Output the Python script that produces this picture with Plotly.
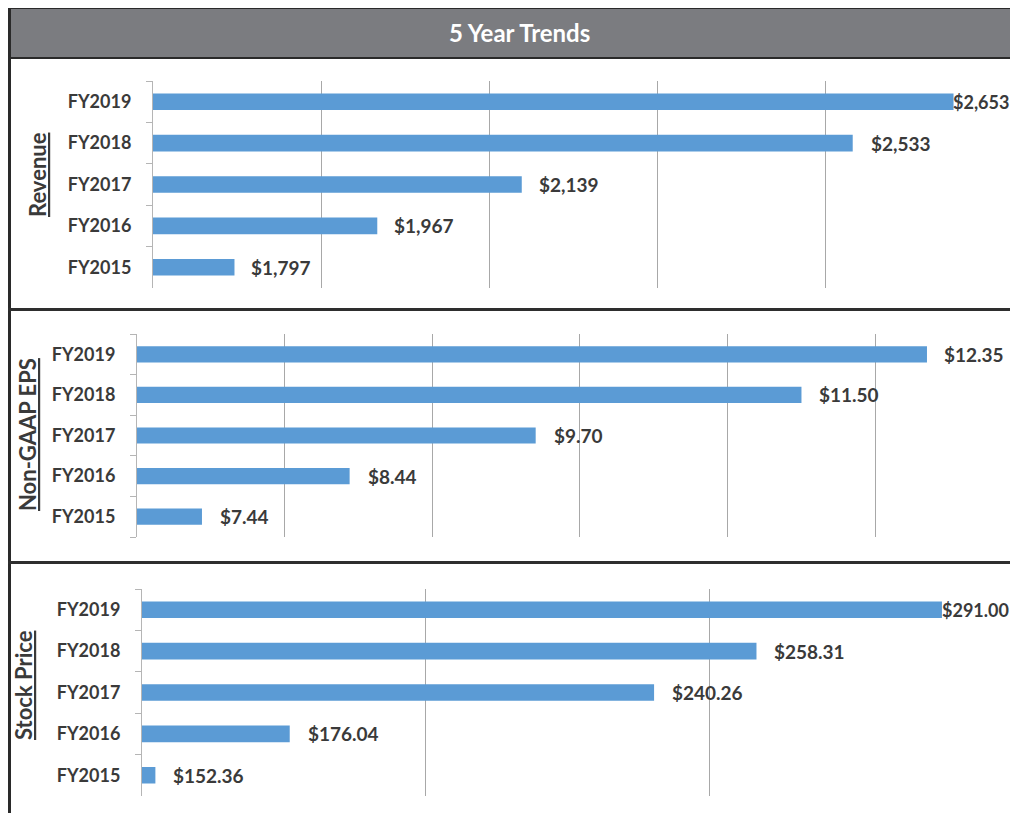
import plotly.graph_objects as go

# The page body has an 8px margin, so the figure is drawn 8px in from the
# window's top-left corner; positions below are given in window pixels.
OFF = 8
W, H = 1018 - 2 * OFF, 813 - OFF

years = ["FY2015", "FY2016", "FY2017", "FY2018", "FY2019"]
revenue = [1797, 1967, 2139, 2533, 2653]
revenue_labels = ["$1,797", "$1,967", "$2,139", "$2,533", "$2,653"]
eps = [7.44, 8.44, 9.70, 11.50, 12.35]
eps_labels = ["$7.44", "$8.44", "$9.70", "$11.50", "$12.35"]
stock = [152.36, 176.04, 240.26, 258.31, 291.00]
stock_labels = ["$152.36", "$176.04", "$240.26", "$258.31", "$291.00"]
panel_titles = ["Revenue", "Non-GAAP EPS", "Stock Price"]
chart_title = "5 Year Trends"

BAR = "#5b9bd5"
TXT = "#3a3a3a"
GRID = "#a8a8a8"
FONT = "Lato"

def py(p):
    return 1 - (p - OFF) / H

def px(p):
    return (p - OFF) / W

RIGHT = OFF + W  # right edge of the figure, window pixels

# label placement: pixel gap after the bar end, or None = pinned to the right edge
panels = [
    dict(vals=revenue, labels=revenue_labels, x0=153, x1=993, y0=81, y1=288,
         rng=[1700, 2700], dtick=200, shifts=[15, 15, 15, 16, None],
         title_x=37, title_y=175),
    dict(vals=eps, labels=eps_labels, x0=137, x1=RIGHT, y0=334, y1=537,
         rng=[7, 7 + (RIGHT - 137) / 147.66], dtick=1, shifts=[16, 16, 16, 16, 15],
         title_x=27, title_y=435),
    dict(vals=stock, labels=stock_labels, x0=142, x1=993, y0=589, y1=796,
         rng=[150, 300], dtick=50, shifts=[16, 16, 16, 16, None],
         title_x=23, title_y=685),
]

fig = go.Figure()
annotations = []
for i, p in enumerate(panels, start=1):
    xa = "x" if i == 1 else f"x{i}"
    ya = "y" if i == 1 else f"y{i}"
    fig.add_trace(go.Bar(
        x=p["vals"], y=years, orientation="h", marker=dict(color=BAR, line=dict(width=0)),
        xaxis=xa, yaxis=ya, showlegend=False, hoverinfo="skip",
    ))
    xkey = "xaxis" if i == 1 else f"xaxis{i}"
    ykey = "yaxis" if i == 1 else f"yaxis{i}"
    fig.update_layout({
        xkey: dict(domain=[px(p["x0"]), min(1, px(p["x1"]))], range=p["rng"], dtick=p["dtick"],
                   tick0=p["rng"][0], showgrid=True, gridcolor=GRID, gridwidth=1,
                   showticklabels=False, zeroline=False, showline=False, anchor=ya,
                   fixedrange=True),
        ykey: dict(domain=[py(p["y1"]), py(p["y0"])], anchor=xa, type="category",
                   categoryorder="array", categoryarray=years,
                   showline=True, linecolor="#b5b5b5", linewidth=1,
                   ticks="outside", ticklen=6, tickcolor="#b5b5b5", tickson="boundaries",
                   ticklabelstandoff=17,
                   tickfont=dict(family=FONT, size=18, color=TXT, weight="bold"),
                   showgrid=False, zeroline=False, fixedrange=True),
    })
    for v, lab, sh, yr in zip(p["vals"], p["labels"], p["shifts"], years):
        if sh is None:
            annotations.append(dict(
                x=1, y=yr, xref="paper", yref=ya, text=f"<b>{lab}</b>", showarrow=False,
                xanchor="right", yanchor="middle", xshift=1,
                font=dict(family=FONT, size=18, color=TXT),
            ))
        else:
            annotations.append(dict(
                x=v, y=yr, xref=xa, yref=ya, text=f"<b>{lab}</b>", showarrow=False,
                xanchor="left", yanchor="middle", xshift=sh,
                font=dict(family=FONT, size=19, color=TXT),
            ))
    annotations.append(dict(
        x=px(p["title_x"]), y=py(p["title_y"]), xref="paper", yref="paper",
        text=f"<b><u>{panel_titles[i-1]}</u></b>", textangle=-90, showarrow=False,
        xanchor="center", yanchor="middle",
        font=dict(family=FONT, size=22, color=TXT),
    ))

annotations.append(dict(
    x=px(520), y=py(33), xref="paper", yref="paper", text=f"<b>{chart_title}</b>",
    showarrow=False, xanchor="center", yanchor="middle",
    font=dict(family=FONT, size=24, color="white"),
))

shapes = [
    # title band
    dict(type="rect", xref="paper", yref="paper", x0=px(10), x1=1, y0=py(57), y1=py(8),
         fillcolor="#7b7c80", line=dict(width=0), layer="below"),
    # outer top border
    dict(type="line", xref="paper", yref="paper", x0=px(8), x1=1, y0=py(7.5), y1=py(7.5),
         line=dict(color="#2a2a2a", width=3)),
    # outer left border
    dict(type="line", xref="paper", yref="paper", x0=px(9.5), x1=px(9.5), y0=0, y1=py(6),
         line=dict(color="#2a2a2a", width=3)),
    # title band bottom
    dict(type="line", xref="paper", yref="paper", x0=px(8), x1=1, y0=py(58), y1=py(58),
         line=dict(color="#2a2a2a", width=2)),
    # panel separators
    dict(type="line", xref="paper", yref="paper", x0=px(8), x1=1, y0=py(309.5), y1=py(309.5),
         line=dict(color="#2e2e2e", width=3)),
    dict(type="line", xref="paper", yref="paper", x0=px(8), x1=1, y0=py(562.5), y1=py(562.5),
         line=dict(color="#2e2e2e", width=3)),
]

fig.update_layout(
    width=W, height=H, margin=dict(l=0, r=0, t=0, b=0),
    paper_bgcolor="white", plot_bgcolor="rgba(0,0,0,0)",
    bargap=0.6, annotations=annotations, shapes=shapes,
    font=dict(family=FONT, color=TXT),
)

fig.write_html("out.html")
